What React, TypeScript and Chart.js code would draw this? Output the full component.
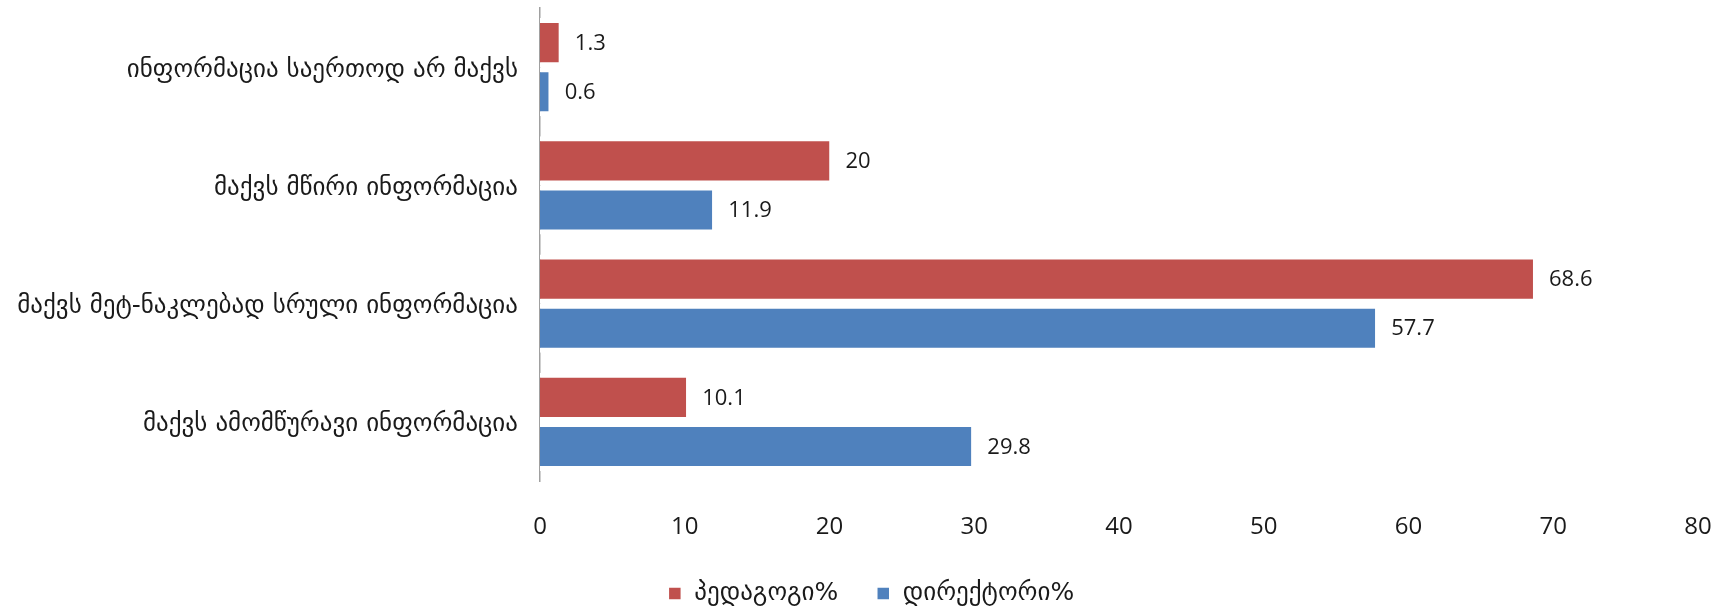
import React, { useEffect, useRef } from "react";
import { Chart, registerables } from "chart.js";

Chart.register(...registerables);

const categories: string[] = [
  "ინფორმაცია საერთოდ არ მაქვს",
  "მაქვს მწირი ინფორმაცია",
  "მაქვს მეტ-ნაკლებად სრული ინფორმაცია",
  "მაქვს ამომწურავი ინფორმაცია",
];

const seriesNames: string[] = ["პედაგოგი%", "დირექტორი%"];
const teacherValues: number[] = [1.3, 20, 68.6, 10.1];
const directorValues: number[] = [0.6, 11.9, 57.7, 29.8];

const xMin = 0;
const xMax = 80;
const xStep = 10;

const RED = "#C0504D";
const BLUE = "#4F81BD";

const valueLabelPlugin = {
  id: "valueLabels",
  afterDatasetsDraw(chart: any) {
    const ctx = chart.ctx;
    ctx.save();
    ctx.font = "22px 'Open Sans', 'DejaVu Sans', sans-serif";
    ctx.fillStyle = "#1a1a1a";
    ctx.textAlign = "left";
    ctx.textBaseline = "middle";
    chart.data.datasets.forEach((ds: any, i: number) => {
      const meta = chart.getDatasetMeta(i);
      meta.data.forEach((el: any, j: number) => {
        const v = ds.data[j];
        ctx.fillText(String(v), el.x + 16, el.y + 1);
      });
    });
    ctx.restore();
  },
};

const legendShiftPlugin = {
  id: "legendShift",
  afterLayout(chart: any) {
    const lg = chart.legend;
    if (lg) {
      lg.left += 22;
      lg.right += 22;
    }
  },
};

export default function App() {
  const canvasRef = useRef<HTMLCanvasElement | null>(null);

  useEffect(() => {
    if (!canvasRef.current) return;
    const chart = new Chart(canvasRef.current, {
      type: "bar",
      data: {
        labels: categories,
        datasets: [
          {
            label: seriesNames[0],
            data: teacherValues,
            backgroundColor: RED,
            borderColor: "#ffffff",
            borderWidth: { top: 5, bottom: 5, left: 0, right: 0 },
            borderSkipped: false,
            categoryPercentage: 0.83,
            barPercentage: 1,
          },
          {
            label: seriesNames[1],
            data: directorValues,
            backgroundColor: BLUE,
            borderColor: "#ffffff",
            borderWidth: { top: 5, bottom: 5, left: 0, right: 0 },
            borderSkipped: false,
            categoryPercentage: 0.83,
            barPercentage: 1,
          },
        ],
      },
      options: {
        indexAxis: "y",
        responsive: false,
        animation: false,
        layout: { padding: { top: 8, right: 31, bottom: 0, left: 0 } },
        scales: {
          x: {
            min: xMin,
            max: xMax,
            ticks: {
              stepSize: xStep,
              color: "#1a1a1a",
              font: { family: "'Open Sans', 'DejaVu Sans', sans-serif", size: 24 },
              padding: 32,
              maxRotation: 0,
            },
            grid: { display: false, drawTicks: false },
            border: { display: false },
            afterFit: (scale: any) => {
              scale.height = 62;
              scale.paddingLeft = 0;
              scale.paddingRight = 0;
            },
          },
          y: {
            ticks: {
              color: "#1a1a1a",
              font: { family: "'DejaVu Sans', sans-serif", size: 25 },
              padding: 22,
              labelOffset: 3,
            },
            grid: { display: false, drawTicks: false },
            border: { display: true, color: "#a0a0a0", width: 1.5 },
            afterFit: (scale: any) => {
              scale.width = 540;
              scale.paddingTop = 0;
              scale.paddingBottom = 0;
            },
          },
        },
        plugins: {
          legend: {
            position: "bottom",
            align: "center",
            maxHeight: 69,
            labels: {
              boxWidth: 14,
              boxHeight: 14,
              padding: 38,
              color: "#1a1a1a",
              font: { family: "'DejaVu Sans', sans-serif", size: 25 },
            },
          },
          tooltip: { enabled: false },
        },
      },
      plugins: [valueLabelPlugin, legendShiftPlugin],
    });
    return () => chart.destroy();
  }, []);

  return (
    <div style={{ position: "fixed", left: 0, top: 0, width: 1729, height: 612, background: "#fff" }}>
      <canvas ref={canvasRef} width={1729} height={612} />
    </div>
  );
}
